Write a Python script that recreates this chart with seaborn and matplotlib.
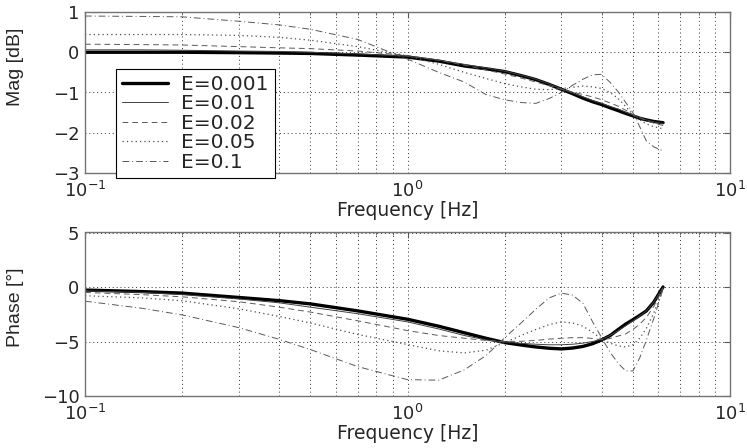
import matplotlib
matplotlib.use("Agg")
import matplotlib.pyplot as plt
import seaborn as sns
import numpy as np
from matplotlib.ticker import LogLocator, NullFormatter

# ---- data ----
freq = [0.1, 0.15, 0.2, 0.3, 0.4, 0.5, 0.7, 1.0, 1.25, 1.5, 1.75, 2.0, 2.25, 2.5,
        2.75, 3.0, 3.25, 3.5, 3.75, 4.0, 4.25, 4.5, 4.75, 5.0, 5.25, 5.5, 5.8, 6.2]
labels = ["E=0.001", "E=0.01", "E=0.02", "E=0.05", "E=0.1"]

mag_e0001 = [0.0, 0.0, 0.0, -0.01, -0.02, -0.03, -0.07, -0.12, -0.22, -0.34, -0.41, -0.48,
             -0.58, -0.68, -0.80, -0.92, -1.03, -1.14, -1.23, -1.30, -1.38, -1.45, -1.52,
             -1.58, -1.64, -1.68, -1.72, -1.75]
mag_e001 = [0.06, 0.06, 0.05, 0.03, 0.02, 0.0, -0.04, -0.10, -0.20, -0.30, -0.39, -0.47,
            -0.57, -0.67, -0.79, -0.91, -1.01, -1.11, -1.20, -1.27, -1.35, -1.41, -1.49,
            -1.56, -1.62, -1.68, -1.73, -1.77]
mag_e002 = [0.20, 0.19, 0.18, 0.14, 0.11, 0.09, 0.03, -0.08, -0.20, -0.32, -0.44, -0.54,
            -0.64, -0.74, -0.83, -0.92, -0.99, -1.05, -1.11, -1.18, -1.26, -1.34, -1.44,
            -1.55, -1.63, -1.70, -1.76, -1.82]
mag_e005 = [0.44, 0.44, 0.44, 0.42, 0.37, 0.30, 0.14, -0.09, -0.30, -0.50, -0.65, -0.78,
            -0.86, -0.92, -0.93, -0.90, -0.87, -0.84, -0.86, -0.90, -1.00, -1.15, -1.35,
            -1.55, -1.68, -1.78, -1.85, -1.90]
mag_e01 = [0.90, 0.89, 0.88, 0.77, 0.68, 0.57, 0.32, -0.17, -0.50, -0.74, -1.05, -1.18,
           -1.25, -1.27, -1.15, -1.00, -0.82, -0.67, -0.56, -0.55, -0.75, -0.98, -1.25,
           -1.50, -1.85, -2.20, -2.35, -2.45]

ph_e0001 = [-0.28, -0.42, -0.56, -0.96, -1.25, -1.55, -2.19, -2.96, -3.6, -4.2, -4.7, -5.1,
            -5.32, -5.5, -5.62, -5.68, -5.6, -5.45, -5.2, -4.86, -4.45, -3.9, -3.4, -3.0,
            -2.6, -2.2, -1.4, 0.0]
ph_e001 = [-0.35, -0.5, -0.7, -1.1, -1.45, -1.85, -2.45, -3.2, -3.85, -4.45, -4.85, -5.05,
           -5.17, -5.25, -5.3, -5.3, -5.25, -5.15, -5.0, -4.8, -4.45, -4.0, -3.55, -3.1,
           -2.65, -2.2, -1.4, -0.05]
ph_e002 = [-0.5, -0.7, -0.9, -1.35, -1.85, -2.3, -3.1, -4.0, -4.45, -4.7, -4.9, -5.0,
           -4.98, -4.9, -4.78, -4.7, -4.65, -4.65, -4.72, -4.85, -4.72, -4.5, -4.3, -3.9,
           -3.4, -2.8, -1.8, -0.1]
ph_e005 = [-0.8, -1.0, -1.26, -2.0, -2.7, -3.3, -4.35, -5.28, -5.85, -6.05, -5.8, -5.1,
           -4.45, -3.9, -3.45, -3.2, -3.3, -3.6, -4.15, -4.8, -5.15, -5.4, -5.5, -5.3,
           -4.7, -3.8, -2.4, -0.2]
ph_e01 = [-1.3, -1.95, -2.56, -3.73, -4.8, -5.74, -7.3, -8.5, -8.55, -7.6, -6.3, -4.66,
          -3.3, -2.04, -1.0, -0.56, -0.75, -1.5, -3.2, -4.65, -6.0, -7.0, -7.7, -7.7,
          -6.5, -4.9, -2.9, -0.2]

mags = [mag_e0001, mag_e001, mag_e002, mag_e005, mag_e01]
phases = [ph_e0001, ph_e001, ph_e002, ph_e005, ph_e01]

# ---- styles ----
line_styles = ["-", "-", (0, (6, 4)), (0, (1, 2.5)), (0, (7, 3, 1, 3))]
line_widths = [2.4, 0.7, 0.7, 0.9, 0.7]
line_colors = ["black", "0.25", "0.35", "0.3", "0.35"]

sns.set_style("white")
plt.rcParams["font.family"] = ["DejaVu Sans"]
plt.rcParams["mathtext.fontset"] = "dejavusans"

fig = plt.figure(figsize=(7.47, 4.48), dpi=100)
W, H = 747.0, 448.0
ax1 = fig.add_axes([85 / W, 1 - 173 / H, 645 / W, 161 / H])
ax2 = fig.add_axes([85 / W, 1 - 396 / H, 645 / W, 163.5 / H])


def style_axis(ax, ylim, yticks, ylabel, ylab_y):
    ax.set_xscale("log")
    ax.set_xlim(0.1, 10)
    ax.set_ylim(*ylim)
    ax.set_yticks(yticks)
    ax.xaxis.set_major_locator(LogLocator(base=10, numticks=5))
    ax.xaxis.set_minor_locator(LogLocator(base=10, subs=np.arange(2, 10), numticks=20))
    ax.xaxis.set_minor_formatter(NullFormatter())
    ax.grid(False)
    ax.xaxis.grid(True, which="both", linestyle=(0, (1, 3)), color="0.2", lw=0.7)
    ax.yaxis.grid(True, which="major", linestyle=(0, (1, 3)), color="0.2", lw=0.7)
    ax.tick_params(which="both", direction="in", top=True, right=True,
                   labelsize=13, color="0.35")
    ax.tick_params(which="major", length=4)
    ax.tick_params(which="minor", length=2)
    ax.tick_params(axis="x", pad=6)
    ax.tick_params(axis="y", pad=4)
    for sp in ax.spines.values():
        sp.set_color("0.45")
        sp.set_linewidth(1.0)
    ax.set_xlabel("Frequency [Hz]", fontsize=13.5, labelpad=0)
    ax.set_ylabel(ylabel, fontsize=14, family="Liberation Sans")
    ax.yaxis.set_label_coords(-0.094, ylab_y)
    ax.set_axisbelow(True)


for i in range(5):
    sns.lineplot(x=freq, y=mags[i], ax=ax1, color=line_colors[i], lw=line_widths[i],
                 linestyle=line_styles[i], label=labels[i], estimator=None, sort=False)
    sns.lineplot(x=freq, y=phases[i], ax=ax2, color=line_colors[i], lw=line_widths[i],
                 linestyle=line_styles[i], legend=False, estimator=None, sort=False)

style_axis(ax1, (-3, 1), [-3, -2, -1, 0, 1], "Mag [dB]", 0.66)
style_axis(ax2, (-10, 5), [-10, -5, 0, 5], "Phase [°]", 0.54)

handles, labs = ax1.get_legend_handles_labels()
leg = ax1.legend(handles, labs, loc="upper left",
                 bbox_to_anchor=(116 / W, 1 - 69 / H), bbox_transform=fig.transFigure,
                 fontsize=14.5, frameon=True, fancybox=False, framealpha=1,
                 edgecolor="black", labelspacing=0.02, handlelength=2.3,
                 handletextpad=0.65, borderpad=0.3, borderaxespad=0)
leg.get_frame().set_linewidth(0.8)

fig.savefig("out.png", dpi=100)
